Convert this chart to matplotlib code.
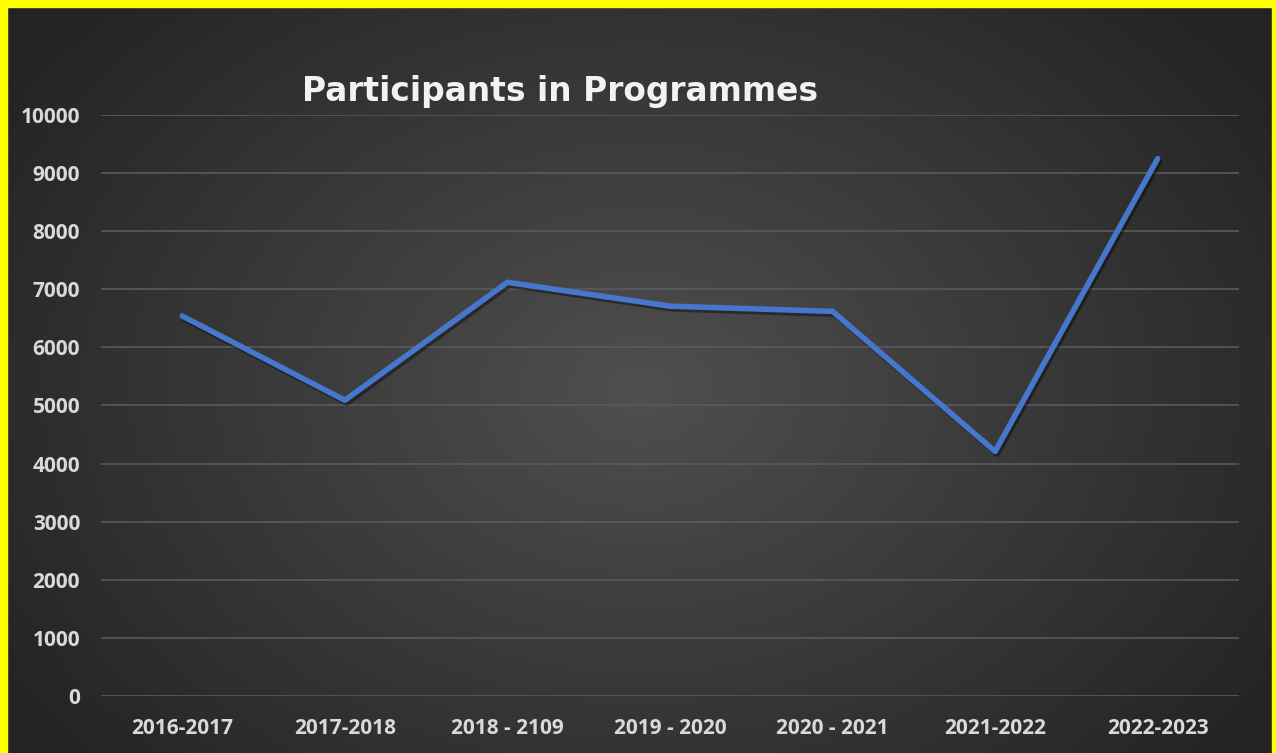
import numpy as np
import matplotlib.pyplot as plt
import matplotlib.patheffects as pe
from matplotlib.patches import Rectangle

years = ["2016-2017", "2017-2018", "2018 - 2109", "2019 - 2020",
         "2020 - 2021", "2021-2022", "2022-2023"]
participants = [6540, 5090, 7120, 6710, 6620, 4210, 9250]
y_ticks = list(range(0, 10001, 1000))

W, H = 1276, 753
fig = plt.figure(figsize=(W / 100, H / 100), dpi=100)

# radial gradient background
bg = fig.add_axes([0, 0, 1, 1])
yy, xx = np.mgrid[0:H, 0:W]
r = np.sqrt(((xx - 640) / 760) ** 2 + ((yy - 390) / 560) ** 2)
r = np.clip(r, 0, 1)
shade = 0.31 - 0.17 * r
bg.imshow(np.dstack([shade] * 3), extent=[0, 1, 0, 1], aspect="auto")
bg.set_axis_off()

# yellow border (top, left, right)
for x0, y0, w, h in [(0, 1 - 7 / H, 1, 7 / H), (0, 0, 7 / W, 1), (1 - 4 / W, 0, 4 / W, 1)]:
    fig.patches.append(Rectangle((x0, y0), w, h, transform=fig.transFigure,
                                 color="#ffff00", zorder=10))

ax = fig.add_axes([101 / W, 57 / H, (1239 - 101) / W, (696 - 115) / H])
ax.set_facecolor("none")
x = np.arange(len(years))
ax.plot(x, participants, color="#4677cc", lw=4, solid_capstyle="round",
        path_effects=[pe.SimpleLineShadow(offset=(1.5, -2), alpha=0.4, shadow_color="black"),
                      pe.Normal()], zorder=3)

ax.set_xlim(-0.5, len(years) - 0.5)
ax.set_ylim(0, 10000)
ax.set_yticks(y_ticks)
ax.set_xticks(x)
ax.set_xticklabels(years)
ax.grid(axis="y", color="#5a5a5a", lw=1.2)
ax.set_axisbelow(True)
for s in ax.spines.values():
    s.set_visible(False)
ax.tick_params(length=0, colors="#d9d9d9", labelsize=15)
ax.tick_params(axis="y", pad=15)
ax.tick_params(axis="x", pad=16)
for lab in ax.get_xticklabels() + ax.get_yticklabels():
    lab.set_family("Open Sans")
    lab.set_weight("bold")

fig.text(560 / W, 1 - 91 / H, "Participants in Programmes", color="#f2f2f2",
         fontsize=23.7, fontweight="bold", family="DejaVu Sans", ha="center", va="center")

fig.savefig("out.png", dpi=100)
